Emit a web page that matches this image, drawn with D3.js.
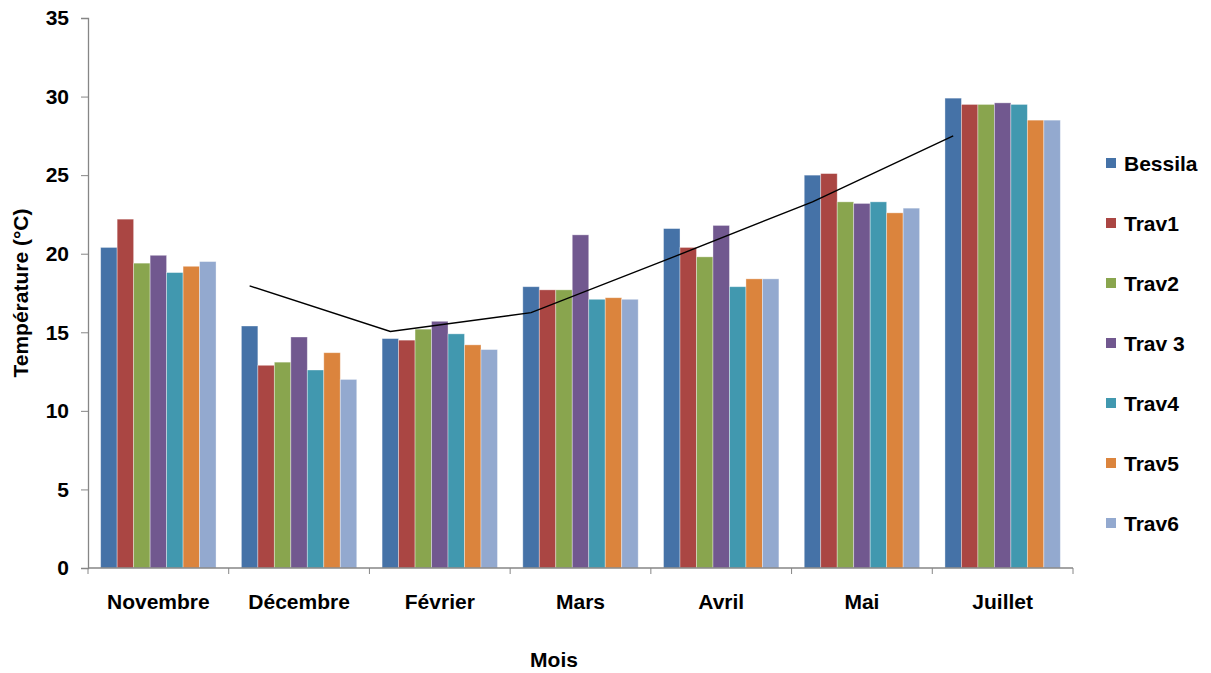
<!DOCTYPE html>
<html>
<head>
<meta charset="utf-8">
<script src="https://cdn.jsdelivr.net/npm/d3@7"></script>
<style>
  html, body { margin: 0; padding: 0; background: #fff; }
  svg { display: block; font-family: "Liberation Sans", Arial, sans-serif; }
</style>
</head>
<body>
<svg id="chart" width="1211" height="673"></svg>
<script>
// ---- Data ----
const months = ["Novembre", "Décembre", "Février", "Mars", "Avril", "Mai", "Juillet"];
const seriesNames = ["Bessila", "Trav1", "Trav2", "Trav 3", "Trav4", "Trav5", "Trav6"];
const bessila = [20.4, 15.4, 14.6, 17.9, 21.6, 25.0, 29.9];
const trav1   = [22.2, 12.9, 14.5, 17.7, 20.4, 25.1, 29.5];
const trav2   = [19.4, 13.1, 15.2, 17.7, 19.8, 23.3, 29.5];
const trav3   = [19.9, 14.7, 15.7, 21.2, 21.8, 23.2, 29.6];
const trav4   = [18.8, 12.6, 14.9, 17.1, 17.9, 23.3, 29.5];
const trav5   = [19.2, 13.7, 14.2, 17.2, 18.4, 22.6, 28.5];
const trav6   = [19.5, 12.0, 13.9, 17.1, 18.4, 22.9, 28.5];
// Trend line (2-period moving average on Bessila), from Décembre to Juillet
const trendMonths = ["Décembre", "Février", "Mars", "Avril", "Mai", "Juillet"];
const trendValues = [17.95, 15.05, 16.25, 19.75, 23.3, 27.5];
const yTicks = [0, 5, 10, 15, 20, 25, 30, 35];
const colors = ["#4572A7", "#AA4643", "#89A54E", "#71588F", "#4198AF", "#DB843D", "#93A9CF"];

const seriesValues = [bessila, trav1, trav2, trav3, trav4, trav5, trav6];

// ---- Layout ----
const svg = d3.select("#chart");
const plotLeft = 88, plotRight = 1073, plotTop = 18, plotBottom = 568;
const FONT = "Liberation Sans, Arial, sans-serif";

const x0 = d3.scaleBand().domain(months).range([plotLeft, plotRight])
  .paddingInner(0.18).paddingOuter(0.09);
const x1 = d3.scaleBand().domain(seriesNames).range([0, x0.bandwidth()]);
const y = d3.scaleLinear().domain([0, 35]).range([plotBottom, plotTop]);

// Bars
const groups = svg.append("g").selectAll("g")
  .data(months).join("g")
  .attr("transform", m => `translate(${x0(m)},0)`);

groups.selectAll("rect")
  .data((m, i) => seriesNames.map((s, j) => ({ s, j, v: seriesValues[j][i] })))
  .join("rect")
  .attr("x", d => x1(d.s))
  .attr("y", d => y(d.v))
  .attr("width", x1.bandwidth())
  .attr("height", d => y(0) - y(d.v))
  .attr("fill", d => colors[d.j])
  .attr("stroke", "rgba(255,255,255,0.45)")
  .attr("stroke-width", 0.8);

// Trend line
const line = d3.line()
  .x(d => x0(d.m) + x1("Bessila") + x1.bandwidth() / 2)
  .y(d => y(d.v));
svg.append("path")
  .datum(trendMonths.map((m, i) => ({ m, v: trendValues[i] })))
  .attr("d", line)
  .attr("fill", "none")
  .attr("stroke", "#000")
  .attr("stroke-width", 1.4);

// Y axis
const yAxis = svg.append("g")
  .attr("transform", `translate(${plotLeft},0)`)
  .call(d3.axisLeft(y).tickValues(yTicks).tickSize(7).tickPadding(12).tickFormat(d3.format("d")));
yAxis.select(".domain").attr("stroke", "#868686").attr("stroke-width", 1.3);
yAxis.selectAll(".tick line").attr("stroke", "#868686");
yAxis.selectAll(".tick text")
  .attr("font-size", 21).attr("font-weight", "bold").attr("fill", "#000")
  .attr("font-family", FONT);

// X axis (labels)
const xAxis = svg.append("g")
  .attr("transform", `translate(0,${plotBottom})`)
  .call(d3.axisBottom(x0).tickSize(0).tickPadding(0).tickSizeOuter(0));
xAxis.select(".domain").remove();
xAxis.selectAll(".tick text")
  .attr("dy", null).attr("y", 41)
  .attr("font-size", 21).attr("font-weight", "bold").attr("fill", "#000")
  .attr("font-family", FONT);
// X axis line and boundary ticks
svg.append("line")
  .attr("x1", plotLeft).attr("x2", plotRight)
  .attr("y1", plotBottom).attr("y2", plotBottom)
  .attr("stroke", "#868686").attr("stroke-width", 1.3);
const step = x0.step();
const boundaries = d3.range(months.length + 1).map(i => x0(months[0]) - x0.paddingOuter() * step + i * step);
svg.append("g").selectAll("line")
  .data(boundaries).join("line")
  .attr("x1", d => d).attr("x2", d => d)
  .attr("y1", plotBottom).attr("y2", plotBottom + 6)
  .attr("stroke", "#868686").attr("stroke-width", 1);

// Axis titles
svg.append("text")
  .attr("x", 554).attr("y", 667)
  .attr("text-anchor", "middle")
  .attr("font-size", 21).attr("font-weight", "bold")
  .text("Mois");
svg.append("text")
  .attr("transform", `translate(28,${(plotTop + plotBottom) / 2}) rotate(-90)`)
  .attr("text-anchor", "middle")
  .attr("font-size", 21).attr("font-weight", "bold")
  .text("Température (°C)");

// Legend
const legend = svg.append("g").selectAll("g")
  .data(seriesNames).join("g")
  .attr("transform", (d, i) => `translate(1106,${163 + i * 60})`);
legend.append("rect")
  .attr("x", 0).attr("y", -5).attr("width", 10).attr("height", 10)
  .attr("fill", (d, i) => colors[i]);
legend.append("text")
  .attr("x", 18).attr("y", 7.5)
  .attr("font-size", 21).attr("font-weight", "bold")
  .text(d => d);
</script>
</body>
</html>
